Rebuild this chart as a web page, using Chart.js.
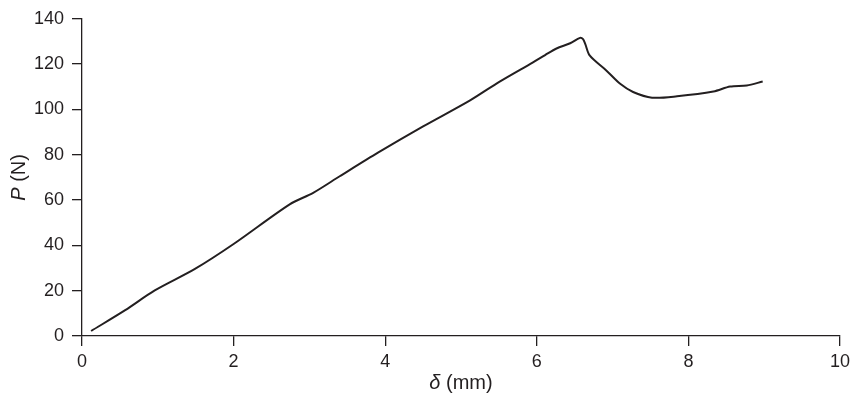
<!DOCTYPE html>
<html>
<head>
<meta charset="utf-8">
<script src="https://cdn.jsdelivr.net/npm/chart.js@4.4.1/dist/chart.umd.min.js"></script>
<style>
    html, body { margin: 0; padding: 0; background: #fff; }
    #wrap { width: 850px; height: 396px; }
</style>
</head>
<body>
<div id="wrap"><canvas id="loadChart"></canvas></div>
<script>
// displacement (mm) and load (N)
const deltaMm = [0.12, 0.57, 0.96, 1.49, 2.0, 2.74, 3.05, 3.4, 3.91, 4.5, 5.12, 5.51, 5.95, 6.11, 6.26, 6.44, 6.57, 6.61, 6.64, 6.7, 6.92, 7.1, 7.27, 7.52, 7.85, 8.33, 8.55, 8.77, 8.98];
const loadN = [2.2, 11.4, 20.1, 29.6, 40.6, 58.1, 63.2, 70.5, 81.0, 92.5, 104.0, 112.3, 120.8, 124.0, 126.9, 129.2, 131.6, 131.0, 128.8, 123.7, 117.1, 111.3, 107.7, 105.2, 105.8, 107.9, 110.1, 110.6, 112.3];
const xTicks = [0, 2, 4, 6, 8, 10];
const yTicks = [0, 20, 40, 60, 80, 100, 120, 140];

const ink = '#231f20';
const fontFamily = '"Liberation Sans", Arial, sans-serif';

// axis titles with the italic symbol part
const axisTitles = {
    id: 'axisTitles',
    afterDraw(chart) {
        const { ctx, chartArea } = chart;
        const drawMixed = (parts, x, y) => {
            let total = 0;
            parts.forEach(p => {
                ctx.font = `${p.italic ? 'italic ' : ''}20px ${fontFamily}`;
                p.w = ctx.measureText(p.text).width;
                total += p.w;
            });
            let cx = x - total / 2;
            parts.forEach(p => {
                ctx.font = `${p.italic ? 'italic ' : ''}20px ${fontFamily}`;
                ctx.fillText(p.text, cx, y);
                cx += p.w;
            });
        };
        ctx.save();
        ctx.fillStyle = ink;
        ctx.textBaseline = 'middle';
        ctx.textAlign = 'left';
        drawMixed([{ text: '\u03B4', italic: true }, { text: ' (mm)', italic: false }],
            (chartArea.left + chartArea.right) / 2, 383);
        ctx.translate(19, (chartArea.top + chartArea.bottom) / 2);
        ctx.rotate(-Math.PI / 2);
        drawMixed([{ text: 'P', italic: true }, { text: ' (N)', italic: false }], 0, 0);
        ctx.restore();
    }
};

const points = deltaMm.map((x, i) => ({ x, y: loadN[i] }));

new Chart(document.getElementById('loadChart').getContext('2d'), {
    type: 'line',
    data: {
        datasets: [{
            data: points,
            borderColor: ink,
            borderWidth: 2,
            pointRadius: 0,
            tension: 0.3,
            fill: false,
        }],
    },
    options: {
        responsive: true,
        maintainAspectRatio: false,
        animation: false,
        layout: { padding: { top: 16, right: 0, left: 0, bottom: 0 } },
        plugins: {
            legend: { display: false },
            tooltip: { enabled: false },
        },
        scales: {
            x: {
                type: 'linear',
                min: 0,
                max: 10,
                afterFit: scale => {
                    scale.height = 60;
                    scale.paddingRight = 10;
                },
                afterBuildTicks: scale => { scale.ticks = xTicks.map(v => ({ value: v })); },
                ticks: { color: ink, padding: 5, font: { family: fontFamily, size: 18 } },
                grid: { drawOnChartArea: false, tickLength: 10, color: ink, lineWidth: 1.3 },
                border: { display: true, color: ink, width: 1.3 },
            },
            y: {
                min: 0,
                max: 140,
                afterFit: scale => { scale.width = 82; },
                afterBuildTicks: scale => { scale.ticks = yTicks.map(v => ({ value: v })); },
                ticks: { color: ink, padding: 8, font: { family: fontFamily, size: 18 } },
                grid: { drawOnChartArea: false, tickLength: 10, color: ink, lineWidth: 1.3 },
                border: { display: true, color: ink, width: 1.3 },
            },
        },
    },
    plugins: [axisTitles],
});
</script>
</body>
</html>
